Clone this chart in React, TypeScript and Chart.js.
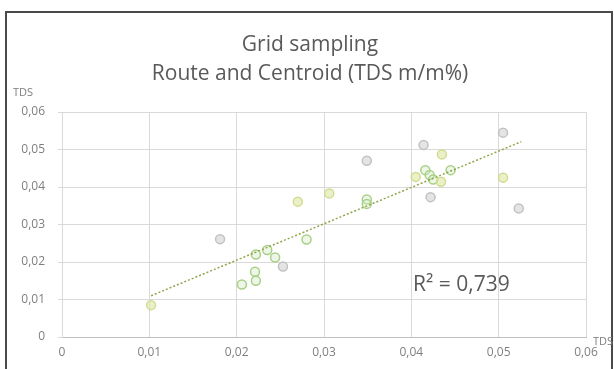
import React, { useEffect, useRef } from "react";
import { Chart, registerables } from "chart.js";

Chart.register(...registerables);

const titleLines = ["Grid sampling", "Route and Centroid (TDS m/m%)"];
const xAxisTitle = "TDS";
const yAxisTitle = "TDS";
const r2Label = "R² = 0,739";

const xValues = [
  0.0102, 0.0181, 0.0206, 0.0221, 0.0222, 0.0222, 0.0235, 0.0244, 0.0253, 0.028,
  0.027, 0.0306, 0.0349, 0.0349, 0.0349, 0.0414, 0.0435, 0.0405, 0.0416, 0.0421,
  0.0425, 0.0434, 0.0445, 0.0422, 0.0505, 0.0505, 0.0523,
];
const yValues = [
  0.0085, 0.0261, 0.014, 0.0174, 0.015, 0.022, 0.0232, 0.0212, 0.0188, 0.026,
  0.0361, 0.0383, 0.047, 0.0367, 0.0355, 0.0512, 0.0487, 0.0427, 0.0445, 0.0432,
  0.042, 0.0414, 0.0445, 0.0373, 0.0545, 0.0425, 0.0343,
];
const pointTone = [
  "y", "g", "G", "G", "G", "G", "G", "G", "g", "G",
  "y", "y", "g", "G", "G", "g", "y", "y", "G", "G",
  "G", "y", "G", "g", "g", "y", "g",
];
const trendX = [0.0102, 0.0526];
const trendY = [0.011, 0.0521];

const xTicks = [0, 0.01, 0.02, 0.03, 0.04, 0.05, 0.06];
const yTicks = [0, 0.01, 0.02, 0.03, 0.04, 0.05, 0.06];

const toneBorder: Record<string, string> = { g: "#c2c2c2", y: "#d2dc90", G: "#a9d088" };
const toneFill: Record<string, string> = {
  g: "rgba(205,205,205,0.55)",
  y: "rgba(222,230,165,0.6)",
  G: "rgba(205,232,185,0.35)",
};

const fmt = (v: number) => (v === 0 ? "0" : v.toFixed(2).replace(".", ","));

export default function App() {
  const ref = useRef<HTMLCanvasElement | null>(null);
  useEffect(() => {
    if (!ref.current) return;
    const textPlugin = {
      id: "texts",
      afterDraw(chart: any) {
        const ctx = chart.ctx;
        const xs = chart.scales.x;
        const ys = chart.scales.y;
        ctx.save();
        ctx.fillStyle = "#595959";
        ctx.textAlign = "center";
        ctx.textBaseline = "middle";
        ctx.font = "21px 'Open Sans', sans-serif";
        ctx.fillText(titleLines[0], 310, 45);
        ctx.fillText(titleLines[1], 310, 74);
        ctx.font = "11px 'Open Sans', sans-serif";
        ctx.fillStyle = "#7f7f7f";
        ctx.textAlign = "left";
        ctx.fillText(yAxisTitle, 13, ys.getPixelForValue(0.06) - 19);
        ctx.fillText(xAxisTitle, xs.getPixelForValue(0.06) + 7, ys.getPixelForValue(0) + 5);
        ctx.font = "21px 'Open Sans', sans-serif";
        ctx.fillStyle = "#595959";
        ctx.fillText(r2Label, xs.getPixelForValue(0.0402), ys.getPixelForValue(0.0139));
        ctx.restore();
      },
    };
    const chart = new Chart(ref.current, {
      type: "scatter",
      data: {
        datasets: [
          {
            type: "line",
            data: trendX.map((x, i) => ({ x, y: trendY[i] })),
            borderColor: "#8fa74a",
            borderWidth: 1.5,
            borderDash: [2, 2],
            pointRadius: 0,
            fill: false,
          } as any,
          {
            data: xValues.map((x, i) => ({ x, y: yValues[i] })),
            pointRadius: 4.5,
            pointBorderWidth: 1.5,
            pointBorderColor: pointTone.map((t) => toneBorder[t]),
            pointBackgroundColor: pointTone.map((t) => toneFill[t]),
          },
        ],
      },
      options: {
        animation: false,
        responsive: false,
        events: [],
        layout: { padding: { left: 0, right: 28, top: 112, bottom: 0 } },
        plugins: { legend: { display: false }, tooltip: { enabled: false }, title: { display: false } },
        scales: {
          x: {
            type: "linear",
            min: 0,
            max: 0.06,
            afterBuildTicks: (s: any) => {
              s.ticks = xTicks.map((v) => ({ value: v }));
            },
            afterFit: (s: any) => {
              s.height = 32;
            },
            grid: { color: "#d9d9d9", tickLength: 0, lineWidth: 1 },
            border: { color: "#bfbfbf", width: 1 },
            ticks: {
              callback: (v: any) => fmt(Number(v)),
              color: "#7f7f7f",
              font: { family: "'Open Sans', sans-serif", size: 12 },
              padding: 8,
              maxRotation: 0,
            },
          },
          y: {
            type: "linear",
            min: 0,
            max: 0.06,
            afterBuildTicks: (s: any) => {
              s.ticks = yTicks.map((v) => ({ value: v }));
            },
            afterFit: (s: any) => {
              s.width = 62;
            },
            grid: { color: "#d9d9d9", tickLength: 4, lineWidth: 1 },
            border: { color: "#d9d9d9", width: 1 },
            ticks: {
              callback: (v: any) => fmt(Number(v)),
              color: "#7f7f7f",
              font: { family: "'Open Sans', sans-serif", size: 12 },
              padding: 13,
            },
          },
        },
      },
      plugins: [textPlugin],
    } as any);
    return () => chart.destroy();
  }, []);
  return (
    <div style={{ position: "absolute", left: 0, top: 0, width: 614, height: 369, background: "#fff", overflow: "hidden" }}>
      <div
        style={{
          position: "absolute",
          left: 5,
          top: 11,
          width: 608,
          height: 400,
          border: "2px solid #4a4a4a",
          boxSizing: "border-box",
        }}
      />
      <canvas ref={ref} width={614} height={369} style={{ position: "absolute", left: 0, top: 0, width: 614, height: 369 }} />
    </div>
  );
}
